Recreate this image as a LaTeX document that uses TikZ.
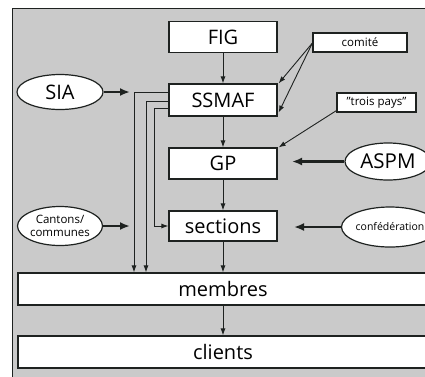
\documentclass[tikz,border=0pt]{standalone}
\usepackage{fontspec}
\setmainfont{Open Sans}
\usetikzlibrary{arrows.meta,shapes.geometric}
\definecolor{bggray}{RGB}{202,202,202}
\definecolor{ink}{RGB}{30,34,32}
\begin{document}
\begin{tikzpicture}[x=1pt,y=-1pt,
  box/.style={draw=ink,line width=1.2pt,fill=white,inner sep=0pt,font=\fontsize{20}{22}\selectfont},
  tag/.style={draw=ink,line width=1.2pt,fill=white,inner sep=0pt,font=\fontsize{11.5}{13}\selectfont},
  oval/.style={ellipse,draw=ink,line width=1.2pt,fill=white,inner sep=0pt},
  thin/.style={draw=ink,line width=0.9pt},
  tarrow/.style={thin,-{Latex[length=7pt,width=5pt]}},
  fat/.style={draw=ink,line width=2.8pt,-{Latex[length=10pt,width=8pt]}}]
\useasboundingbox (0,0) rectangle (425,376);
\fill[bggray] (12,8) rectangle (432,382);
\draw[ink,line width=1pt] (12,382) -- (12,8) -- (432,8);
% main boxes
\node[box,minimum width=108pt,minimum height=31pt] (FIG) at (223,37) {FIG};
\node[box,minimum width=108pt,minimum height=32pt] (SSMAF) at (223,100) {SSMAF};
\node[box,minimum width=108pt,minimum height=31pt] (GP) at (223,163.5) {GP};
\node[box,minimum width=108pt,minimum height=30pt] (sections) at (223,226) {sections};
\node[box,minimum width=410pt,minimum height=32pt] (membres) at (223,289) {membres};
\node[box,minimum width=410pt,minimum height=32pt] (clients) at (223,352) {clients};
% tags
\node[tag,minimum width=94pt,minimum height=19pt] (comite) at (360,42.5) {comité};
\node[tag,minimum width=79pt,minimum height=19pt] (trois) at (376.5,102.5) {"trois pays"};
% ellipses
\node[oval,minimum width=86pt,minimum height=35pt,font=\fontsize{20}{22}\selectfont] (SIA) at (60,92) {SIA};
\node[oval,minimum width=85pt,minimum height=39pt,font=\fontsize{11.5}{12.5}\selectfont,align=center] (cantons) at (60,226) {Cantons/\\communes};
\node[oval,minimum width=86pt,minimum height=37pt,font=\fontsize{20.5}{22}\selectfont] (ASPM) at (388,161.5) {ASPM};
\node[oval,minimum width=90pt,minimum height=40pt,font=\fontsize{10.5}{12}\selectfont] (conf) at (390,227) {confédération};
% vertical chain
\draw[tarrow] (FIG) -- (SSMAF);
\draw[tarrow] (SSMAF) -- (GP);
\draw[tarrow] (GP) -- (sections);
\draw[tarrow] (sections) -- (membres);
\draw[tarrow] (membres) -- (clients);
% routing from SSMAF
\coordinate (c1) at (134,92);
\coordinate (c2) at (146,101);
\coordinate (c3) at (154,108);
\draw[tarrow] ([yshift=8pt]SSMAF.west) -- (c1) -- (c1 |- membres.north);
\draw[tarrow] ([yshift=-1pt]SSMAF.west) -- (c2) -- (c2 |- membres.north);
\draw[tarrow] ([yshift=-8pt]SSMAF.west) -- (c3) -- (c3 |- sections.west) -- (sections.west);
% thick arrows
\coordinate (siaend) at (130,92);
\coordinate (cantend) at (130,226);
\coordinate (aspmend) at (292,161.5);
\coordinate (confend) at (294,227);
\draw[fat] (SIA.east) -- (siaend);
\draw[fat] (cantons.east) -- (cantend);
\draw[fat] (ASPM.west) -- (aspmend);
\draw[fat] (conf.west) -- (confend);
% diagonal arrows
\coordinate (cs) at ([yshift=-0.5pt]comite.west);
\draw[tarrow] (cs) -- ([xshift=1pt]SSMAF.north east);
\draw[tarrow] (cs) -- ([xshift=1pt,yshift=4pt]SSMAF.south east);
\draw[tarrow] ([yshift=2pt]trois.south west) -- ([xshift=1pt]GP.north east);
\end{tikzpicture}
\end{document}
